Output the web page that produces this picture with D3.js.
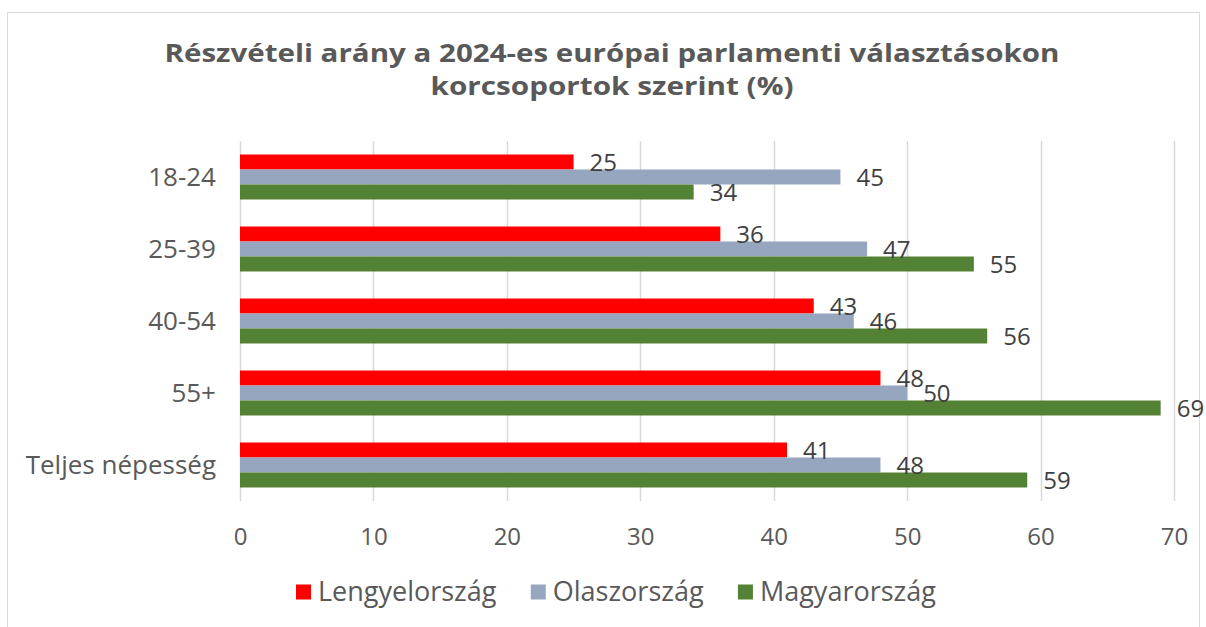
<!DOCTYPE html>
<html>
<head>
<meta charset="utf-8">
<script src="https://cdn.jsdelivr.net/npm/d3@7"></script>
<style>
  html, body { margin: 0; padding: 0; background: #fff; }
  svg { display: block; }
  text { font-family: "Open Sans", "Noto Sans", sans-serif; }
</style>
</head>
<body>
<svg id="chart" width="1206" height="627"></svg>
<script>
const categories = ["18-24", "25-39", "40-54", "55+", "Teljes népesség"];
const seriesNames = ["Lengyelország", "Olaszország", "Magyarország"];
const seriesColors = ["#FF0000", "#97A6BF", "#548235"];
const poland = [25, 36, 43, 48, 41];
const italy = [45, 47, 46, 50, 48];
const hungary = [34, 55, 56, 69, 59];
const xTicks = [0, 10, 20, 30, 40, 50, 60, 70];
const titleLines = ["Részvételi arány a 2024-es európai parlamenti választásokon", "korcsoportok szerint (%)"];

const seriesValues = [poland, italy, hungary];
const rows = [];
categories.forEach((c, i) => {
  seriesNames.forEach((s, j) => rows.push({cat: c, series: s, value: seriesValues[j][i], color: seriesColors[j]}));
});

const svg = d3.select("#chart");

// outer border
svg.append("rect").attr("x", 7.5).attr("y", 12.5).attr("width", 1192).attr("height", 640)
  .attr("fill", "none").attr("stroke", "#d9d9d9").attr("stroke-width", 1);

const x = d3.scaleLinear().domain([0, 70]).range([240, 1174]);
const y = d3.scaleBand().domain(categories).range([141, 501]).paddingInner(0.375).paddingOuter(0.1875);
const ys = d3.scaleBand().domain(seriesNames).range([0, y.bandwidth()]);

// title (two separate lines, stretched horizontally to match the wide bold face)
const titleWidths = [895, 363];
svg.append("g").selectAll("text").data(titleLines).join("text")
  .attr("text-anchor", "middle").attr("fill", "#595959")
  .attr("font-weight", "bold").attr("font-size", 24.4)
  .attr("x", 612).attr("y", (d, i) => 61.5 + i * 33.4)
  .attr("textLength", (d, i) => titleWidths[i])
  .attr("lengthAdjust", "spacingAndGlyphs")
  .text(d => d);

// gridlines
svg.append("g").selectAll("line").data(xTicks).join("line")
  .attr("x1", d => Math.round(x(d)) + 0.5).attr("x2", d => Math.round(x(d)) + 0.5)
  .attr("y1", 141).attr("y2", 501)
  .attr("stroke", "#d9d9d9").attr("stroke-width", 1.5);

// x axis labels
const xAxis = d3.axisBottom(x).tickValues(xTicks).tickSize(0).tickPadding(0);
const gx = svg.append("g").call(xAxis);
gx.select(".domain").remove();
gx.selectAll("text").attr("font-size", 24).attr("fill", "#595959")
  .attr("font-family", "'Open Sans', sans-serif").attr("y", 545).attr("dy", null);

// y axis labels
const yAxis = d3.axisLeft(y).tickSize(0).tickPadding(0);
const gy = svg.append("g").attr("transform", "translate(216,0)").call(yAxis);
gy.select(".domain").remove();
gy.selectAll("text").attr("font-size", 26).attr("fill", "#595959")
  .attr("font-family", "'Open Sans', sans-serif").attr("dy", "0.35em");

// bars
svg.append("g").selectAll("rect").data(rows).join("rect")
  .attr("x", x(0))
  .attr("y", d => y(d.cat) + ys(d.series))
  .attr("width", d => x(d.value) - x(0))
  .attr("height", ys.bandwidth())
  .attr("fill", d => d.color);

// value labels
svg.append("g").selectAll("text").data(rows).join("text")
  .attr("x", d => x(d.value) + 16)
  .attr("y", d => y(d.cat) + ys(d.series) + ys.bandwidth() / 2)
  .attr("dy", "0.36em")
  .attr("font-size", 24).attr("fill", "#404040")
  .text(d => d.value);

// legend
const legend = svg.append("g");
const items = legend.selectAll("g").data(seriesNames).join("g");
items.append("rect").attr("width", 15).attr("height", 15).attr("y", -6.5)
  .attr("fill", (d, i) => seriesColors[i]);
items.append("text").attr("x", 22).attr("dy", "0.36em").attr("font-size", 27)
  .attr("fill", "#595959").text(d => d);
const widths = [];
items.each(function() { widths.push(this.getBBox().width); });
const gap = 34;
let cx = 296;
items.attr("transform", (d, i) => { const t = `translate(${cx},591)`; cx += widths[i] + gap; return t; });
</script>
</body>
</html>
